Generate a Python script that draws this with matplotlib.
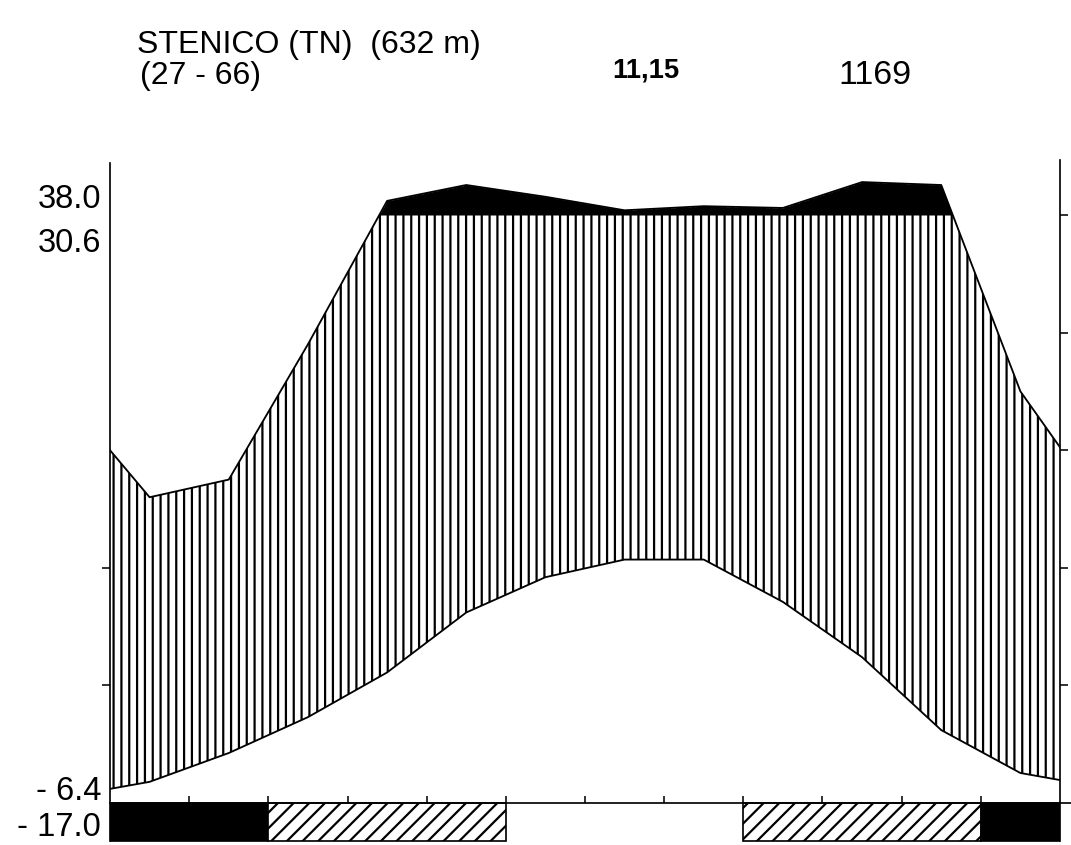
import matplotlib.pyplot as plt
import numpy as np

plt.rcParams['font.family'] = ['Liberation Sans', 'DejaVu Sans']
plt.rcParams['hatch.linewidth'] = 1.7

# Stazione
station = 'STENICO (TN)  (632 m)'
period = '(27 - 66)'
mean_temp = '11,15'
total_prec = '1169'

# Medie mensili
temp = np.array([1.8, 4.25, 7.3, 11.1, 16.2, 19.2, 20.7, 20.7, 17.1, 12.4, 6.2, 2.55])   # gradi C
prec = np.array([52, 55, 78, 124, 151, 131, 108, 115, 112, 156, 151, 70])                # mm
temp_edges = (1.2, 1.95)    # valori ai bordi del diagramma
prec_edges = (60, 60.5)

# 2 = gelo sicuro, 1 = gelo probabile, 0 = nessun gelo
frost = [2, 2, 1, 1, 1, 0, 0, 0, 1, 1, 1, 2]

# etichette a sinistra
abs_max = '38.0'
max_warm = '30.6'
min_cold = '- 6.4'
abs_min = '- 17.0'


def prec_scale(p):
    # 10 gradi = 20 mm, sopra 100 mm scala ridotta 1:10
    p = np.asarray(p, dtype=float)
    return np.where(p <= 100, p / 2, 50 + (p - 100) / 20)


x = np.concatenate([[0], np.arange(12) + 0.5, [12]])
t = np.concatenate([[temp_edges[0]], temp, [temp_edges[1]]])
p = prec_scale(np.concatenate([[prec_edges[0]], prec, [prec_edges[1]]]))

W, H = 1071, 845
dpi = 94
fig = plt.figure(figsize=(W / dpi, H / dpi), dpi=dpi)
ax = fig.add_axes([110 / W, 0, 950 / W, 685 / H])
ybot = -(845 - 803) / 11.76
ytop = (803 - 160) / 11.76
ax.set_xlim(0, 12)
ax.set_ylim(ybot, ytop)

# periodo umido (tratteggio verticale) e parte sopra 100 mm (nera)
ax.fill_between(x, t, p, facecolor='none', edgecolor='black', hatch='||', linewidth=0)
ax.fill_between(x, 50, p, where=p > 50, interpolate=True, color='black', linewidth=0)
ax.plot(x, p, color='black', lw=1.4)
ax.plot(x, t, color='black', lw=1.4)

# barre del gelo: mesi consecutivi uguali in un solo rettangolo
start = 0
for i in range(1, 13):
    if i == 12 or frost[i] != frost[start]:
        f = frost[start]
        if f == 2:
            ax.bar(start, -3.2, width=i - start, bottom=0, align='edge',
                   color='black', edgecolor='black', lw=1.3)
        elif f == 1:
            ax.bar(start, -3.2, width=i - start, bottom=0, align='edge',
                   facecolor='white', edgecolor='black', hatch='//', lw=1.3)
        start = i

# assi
ax.spines['top'].set_visible(False)
ax.spines['right'].set_visible(False)
ax.spines['bottom'].set_position(('data', 0))
ax.spines['bottom'].set_bounds(0, 12.14)
ax.spines['left'].set_bounds(-3.2, 54.4)
for s in ax.spines.values():
    s.set_linewidth(1.3)
ax.set_xticks(range(1, 12))
ax.tick_params(axis='x', direction='in', length=5, width=1.2, labelbottom=False)
ax.set_yticks([10, 20])
ax.tick_params(axis='y', direction='out', length=6, width=1.2, labelleft=False)

ax2 = ax.twinx()
ax2.set_ylim(ybot, ytop)
for side in ['left', 'top', 'bottom']:
    ax2.spines[side].set_visible(False)
ax2.spines['right'].set_bounds(-3.2, ytop)
ax2.spines['right'].set_linewidth(1.3)
ax2.set_yticks([10, 20, 30, 40, 50])
ax2.tick_params(axis='y', direction='out', length=6, width=1.2, labelright=False)

# testi
def px(xp, yp):
    return xp / W, 1 - yp / H

fig.text(*px(137, 45), station, fontsize=24.5, ha='left', va='center')
fig.text(*px(140, 76), period, fontsize=24.5, ha='left', va='center')
fig.text(*px(646, 71), mean_temp, fontsize=21, fontweight='bold', ha='center', va='center')
fig.text(*px(875, 75), total_prec, fontsize=26, ha='center', va='center')

fs = 25
fig.text(*px(101, 200), abs_max, fontsize=fs, ha='right', va='center')
fig.text(*px(101, 244), max_warm, fontsize=fs, ha='right', va='center')
fig.text(*px(101, 792), min_cold, fontsize=fs, ha='right', va='center')
fig.text(*px(101, 828), abs_min, fontsize=fs, ha='right', va='center')

fig.savefig('out.png', dpi=dpi)
